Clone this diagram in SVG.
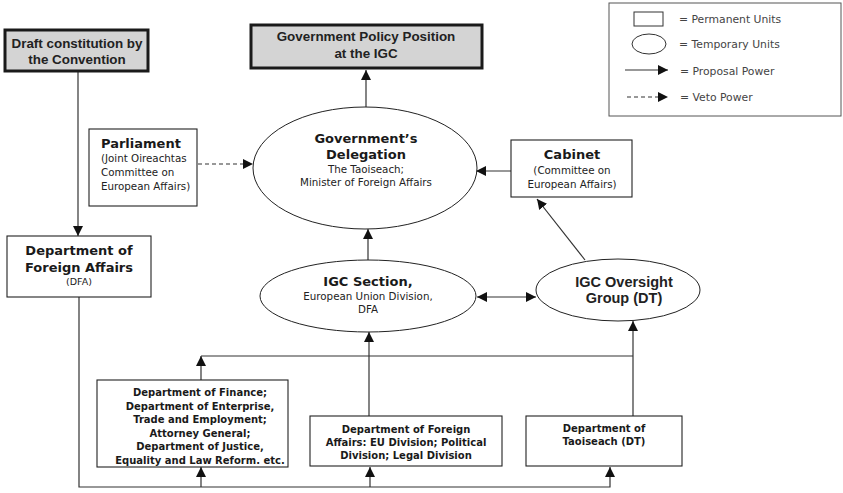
<svg xmlns="http://www.w3.org/2000/svg" width="843" height="493" viewBox="0 0 843 493">
<style>
.bg{fill:#fff}
.box{fill:#fff;stroke:#222;stroke-width:1.1}
.gbox{fill:#d4d4d4;stroke:#1a1a1a;stroke-width:3}
.ell{fill:#fff;stroke:#222;stroke-width:1}
.hd{font-family:"Liberation Sans",Arial,sans-serif;font-weight:bold;font-size:13.4px;fill:#222;text-anchor:middle}
.hv{font-family:"Liberation Sans",Arial,sans-serif;font-weight:bold;font-size:14.5px;fill:#222;text-anchor:middle}
.vb{font-family:"DejaVu Sans",Verdana,sans-serif;font-weight:bold;font-size:13px;fill:#1a1a1a;text-anchor:middle}
.vs{font-family:"DejaVu Sans",Verdana,sans-serif;font-size:10.3px;fill:#222;text-anchor:middle}
.vsl{font-family:"DejaVu Sans",Verdana,sans-serif;font-size:10.3px;fill:#222}
.vbs{font-family:"DejaVu Sans",Verdana,sans-serif;font-weight:bold;font-size:10px;fill:#1a1a1a;text-anchor:middle}
.lg{font-family:"DejaVu Sans",Verdana,sans-serif;font-size:10.8px;fill:#444}
.ln{fill:none;stroke:#333;stroke-width:1.2}
.dash{fill:none;stroke:#333;stroke-width:1.2;stroke-dasharray:4 3}
</style>
<defs>
<marker id="ah" viewBox="0 0 10 10" refX="10" refY="5" markerWidth="10" markerHeight="10" markerUnits="userSpaceOnUse" orient="auto">
<path d="M0,0 L10,5 L0,10 z" fill="#111"/>
</marker>
<marker id="ahs" viewBox="0 0 10 10" refX="0" refY="5" markerWidth="10" markerHeight="10" markerUnits="userSpaceOnUse" orient="auto">
<path d="M10,0 L0,5 L10,10 z" fill="#111"/>
</marker>
</defs>
<rect class="bg" x="0" y="0" width="843" height="493"/>

<g id="legend">
<rect x="609" y="3" width="232" height="113" fill="#fff" stroke="#555" stroke-width="1"/>
<rect x="634" y="12" width="29" height="14" fill="#fff" stroke="#333" stroke-width="1"/>
<text class="lg" x="679" y="23">= Permanent Units</text>
<ellipse cx="649" cy="44" rx="17" ry="10" fill="#fff" stroke="#333" stroke-width="1"/>
<text class="lg" x="679" y="48">= Temporary Units</text>
<line class="ln" x1="625" y1="70" x2="668" y2="70" marker-end="url(#ah)"/>
<text class="lg" x="680" y="75">= Proposal Power</text>
<line class="dash" x1="627" y1="97" x2="668" y2="97" marker-end="url(#ah)" stroke="#777"/>
<text class="lg" x="680" y="101">= Veto Power</text>
</g>

<g id="connectors">
<line class="ln" x1="78" y1="72" x2="78" y2="236" marker-end="url(#ah)"/>
<polyline class="ln" points="79,297 79,487 610,487 610,467" marker-end="url(#ah)"/>
<line class="ln" x1="201" y1="487" x2="201" y2="467" marker-end="url(#ah)"/>
<line class="ln" x1="370" y1="487" x2="370" y2="467" marker-end="url(#ah)"/>
<line class="ln" x1="201" y1="380" x2="201" y2="356" marker-end="url(#ah)"/>
<line class="ln" x1="201" y1="356" x2="633" y2="356"/>
<line class="ln" x1="369" y1="416" x2="369" y2="332" marker-end="url(#ah)"/>
<line class="ln" x1="633" y1="416" x2="633" y2="321" marker-end="url(#ah)"/>
<line class="ln" x1="477" y1="297" x2="536" y2="297" marker-start="url(#ahs)" marker-end="url(#ah)"/>
<line class="ln" x1="368" y1="260" x2="368" y2="229" marker-end="url(#ah)"/>
<line class="ln" x1="366" y1="107" x2="366" y2="70" marker-end="url(#ah)"/>
<line class="dash" x1="198" y1="164" x2="253" y2="164" marker-end="url(#ah)"/>
<line class="ln" x1="511" y1="171" x2="476" y2="171" marker-end="url(#ah)"/>
<line class="ln" x1="585" y1="260" x2="537" y2="199" marker-end="url(#ah)"/>
</g>

<g id="draft">
<rect class="gbox" x="5" y="30" width="143" height="41"/>
<text class="hd" x="77" y="48">Draft constitution by</text>
<text class="hd" x="77" y="64">the Convention</text>
</g>

<g id="govpolicy">
<rect class="gbox" x="251" y="25" width="231" height="43"/>
<text class="hd" x="366" y="41">Government Policy Position</text>
<text class="hd" x="366" y="58">at the IGC</text>
</g>

<g id="parliament">
<rect class="box" x="89" y="129" width="108" height="77"/>
<text class="vb" x="101" y="148" style="text-anchor:start">Parliament</text>
<text class="vsl" x="101" y="162">(Joint Oireachtas</text>
<text class="vsl" x="101" y="176">Committee on</text>
<text class="vsl" x="101" y="190">European Affairs)</text>
</g>

<g id="delegation">
<ellipse class="ell" cx="365" cy="168" rx="112" ry="61"/>
<text class="vb" x="366" y="143">Government’s</text>
<text class="vb" x="366" y="159">Delegation</text>
<text class="vs" x="366" y="173">The Taoiseach;</text>
<text class="vs" x="366" y="186">Minister of Foreign Affairs</text>
</g>

<g id="cabinet">
<rect class="box" x="511" y="140" width="121" height="57"/>
<text class="vb" x="572" y="159">Cabinet</text>
<text class="vs" x="572" y="174">(Committee on</text>
<text class="vs" x="572" y="188">European Affairs)</text>
</g>

<g id="dfa">
<rect class="box" x="7" y="236" width="144" height="61"/>
<text class="vb" x="79" y="255">Department of</text>
<text class="vb" x="79" y="272">Foreign Affairs</text>
<text class="vs" x="79" y="285" style="font-size:9.5px">(DFA)</text>
</g>

<g id="igcsection">
<ellipse class="ell" cx="368" cy="296" rx="108" ry="36"/>
<text class="vb" x="368" y="286">IGC Section,</text>
<text class="vs" x="368" y="300">European Union Division,</text>
<text class="vs" x="368" y="313">DFA</text>
</g>

<g id="oversight">
<ellipse class="ell" cx="618" cy="290" rx="82" ry="31"/>
<text class="hv" x="624" y="287">IGC Oversight</text>
<text class="hv" x="624" y="303">Group (DT)</text>
</g>

<g id="finance">
<rect class="box" x="97" y="380" width="191" height="87"/>
<text class="vbs" x="200" y="396">Department of Finance;</text>
<text class="vbs" x="200" y="409.5">Department of Enterprise,</text>
<text class="vbs" x="200" y="423">Trade and Employment;</text>
<text class="vbs" x="200" y="436.5">Attorney General;</text>
<text class="vbs" x="200" y="450">Department of Justice,</text>
<text class="vbs" x="200" y="463.5">Equality and Law Reform. etc.</text>
</g>

<g id="dfaeu">
<rect class="box" x="310" y="416" width="192" height="50"/>
<text class="vbs" x="406" y="433">Department of Foreign</text>
<text class="vbs" x="406" y="446">Affairs: EU Division; Political</text>
<text class="vbs" x="406" y="459">Division; Legal Division</text>
</g>

<g id="taoiseach">
<rect class="box" x="526" y="416" width="156" height="50"/>
<text class="vbs" x="604" y="432">Department of</text>
<text class="vbs" x="604" y="445">Taoiseach (DT)</text>
</g>
</svg>
